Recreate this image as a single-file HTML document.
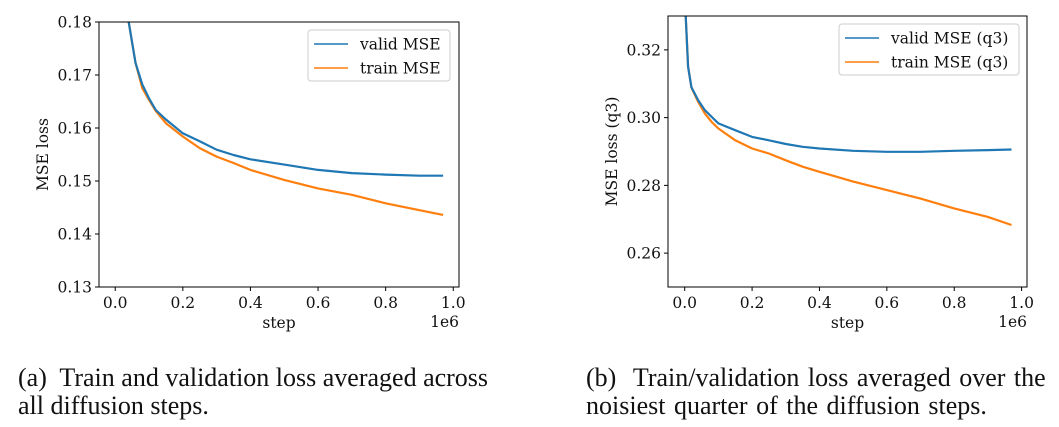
<!DOCTYPE html>
<html><head><meta charset="utf-8"><style>
body{margin:0;background:#fff;width:1059px;height:427px;overflow:hidden;font-family:"DejaVu Serif","Liberation Serif",serif}
.cap{position:absolute;font-family:"Liberation Serif",serif;font-size:26px;line-height:28px;color:#111;white-space:nowrap}
</style></head><body>
<svg id="chart" width="1059" height="340" style="position:absolute;left:0;top:0"></svg>
<div class="cap" style="left:18px;top:364px">(a)&nbsp; Train and validation loss averaged across<br>all diffusion steps.</div>
<div class="cap" style="left:586px;top:364px;word-spacing:2px">(b)&nbsp; Train/validation loss averaged over the<br>noisiest quarter of the diffusion steps.</div>
<script>
const stepsA=[0.04,0.06,0.08,0.1,0.12,0.15,0.2,0.25,0.3,0.35,0.4,0.5,0.6,0.7,0.8,0.9,0.97];
const validA=[0.18,0.1723,0.1682,0.1656,0.1634,0.1616,0.159,0.1575,0.1559,0.1549,0.1541,0.1531,0.1521,0.1515,0.1512,0.151,0.151];
const trainA=[0.18,0.1723,0.1675,0.1653,0.1632,0.1609,0.1584,0.1562,0.1546,0.1534,0.1521,0.1502,0.1486,0.1474,0.1458,0.1445,0.1436];
const yTicksA=[0.13,0.14,0.15,0.16,0.17,0.18];
const stepsB=[0.003,0.01,0.02,0.04,0.06,0.08,0.1,0.15,0.2,0.25,0.3,0.35,0.4,0.5,0.6,0.7,0.8,0.9,0.97];
const validB=[0.33,0.315,0.309,0.3051,0.3022,0.3002,0.2983,0.2963,0.2943,0.2933,0.2922,0.2914,0.2909,0.2902,0.2899,0.2899,0.2902,0.2904,0.2906];
const trainB=[0.33,0.315,0.3089,0.3046,0.3012,0.2987,0.2968,0.2933,0.2909,0.2894,0.2874,0.2855,0.284,0.2811,0.2786,0.2761,0.2732,0.2707,0.2683];
const yTicksB=[0.26,0.28,0.30,0.32];
const xTicks=[0,0.2,0.4,0.6,0.8,1.0];
const NS='http://www.w3.org/2000/svg';
const svg=document.getElementById('chart');
function mk(tag,attrs,parent){const e=document.createElementNS(NS,tag);for(const k in attrs)e.setAttribute(k,attrs[k]);(parent||svg).appendChild(e);return e;}
function draw(o){
  const g=mk('g',{});
  
  
  const X=v=>o.L+(v-o.x0)/(o.x1-o.x0)*(o.R-o.L);
  const Y=v=>o.B-(v-o.y0)/(o.y1-o.y0)*(o.B-o.T);
  const cp=mk('clipPath',{id:o.name+'-clip'},g);mk('rect',{x:o.L,y:o.T,width:o.R-o.L,height:o.B-o.T},cp);
  const series=[[o.steps,o.valid,'#1f77b4','valid-line'],[o.steps,o.train,'#ff7f0e','train-line']];
  series.slice().reverse().forEach(([xs,ys,c,n])=>{
    const p=mk('polyline',{points:xs.map((x,i)=>X(x).toFixed(1)+','+Y(ys[i]).toFixed(1)).join(' '),fill:'none',stroke:c,'stroke-width':2.2,'stroke-linejoin':'round','clip-path':'url(#'+o.name+'-clip)'},g);
    
    
  });
  const fr=mk('rect',{x:o.L,y:o.T,width:o.R-o.L,height:o.B-o.T,fill:'none',stroke:'#000','stroke-width':1},g);
  
  
  o.yt.forEach(v=>{const y=Y(v);mk('line',{x1:o.L-4,x2:o.L,y1:y,y2:y,stroke:'#000'},g);
    const t=mk('text',{x:o.L-7,y:y+5.5,'text-anchor':'end','font-size':15.5,fill:'#111'},g);t.textContent=v.toFixed(2);
    
    });
  xTicks.forEach(v=>{const x=X(v);mk('line',{x1:x,x2:x,y1:o.B,y2:o.B+4,stroke:'#000'},g);
    const t=mk('text',{x:x,y:o.B+21,'text-anchor':'middle','font-size':15.5,fill:'#111'},g);t.textContent=v.toFixed(1);
    
    });
  const xl=mk('text',{x:(o.L+o.R)/2,y:o.B+41,'text-anchor':'middle','font-size':15.5,fill:'#111'},g);xl.textContent='step';
  
  
  const ex=mk('text',{x:o.R,y:o.B+40,'text-anchor':'end','font-size':15.5,fill:'#111'},g);ex.textContent='1e6';
  
  
  const yl=mk('text',{x:0,y:0,'text-anchor':'middle','font-size':15.5,fill:'#111',transform:`translate(${o.ylx},${(o.T+o.B)/2}) rotate(-90)`},g);yl.textContent=o.ylab;
  
  
  const lg=mk('g',{},g);
  
  
  mk('rect',{x:o.lx,y:o.ly,width:o.lw,height:51,rx:3,fill:'#fff',stroke:'#ccc'},lg);
  [['#1f77b4',o.labs[0]],['#ff7f0e',o.labs[1]]].forEach(([c,l],i)=>{
    const yy=o.ly+14+i*24;
    mk('line',{x1:o.lx+6,x2:o.lx+40,y1:yy,y2:yy,stroke:c,'stroke-width':1.5},lg);
    const t=mk('text',{x:o.lx+52,y:yy+5.5,'font-size':15.5,fill:'#111'},lg);t.textContent=l;
    
    
  });
}
draw({name:'chart-a',L:99,R:459,T:22,B:287,x0:-0.048,x1:1.017,y0:0.13,y1:0.18,steps:stepsA,valid:validA,train:trainA,yt:yTicksA,ylab:'MSE loss',ylx:48,lx:308,ly:30,lw:142,labs:['valid MSE','train MSE']});
draw({name:'chart-b',L:668,R:1027,T:16,B:287,x0:-0.0496,x1:1.016,y0:0.25,y1:0.33,steps:stepsB,valid:validB,train:trainB,yt:yTicksB,ylab:'MSE loss (q3)',ylx:617,lx:839,ly:24,lw:180,labs:['valid MSE (q3)','train MSE (q3)']});
</script>
</body></html>
